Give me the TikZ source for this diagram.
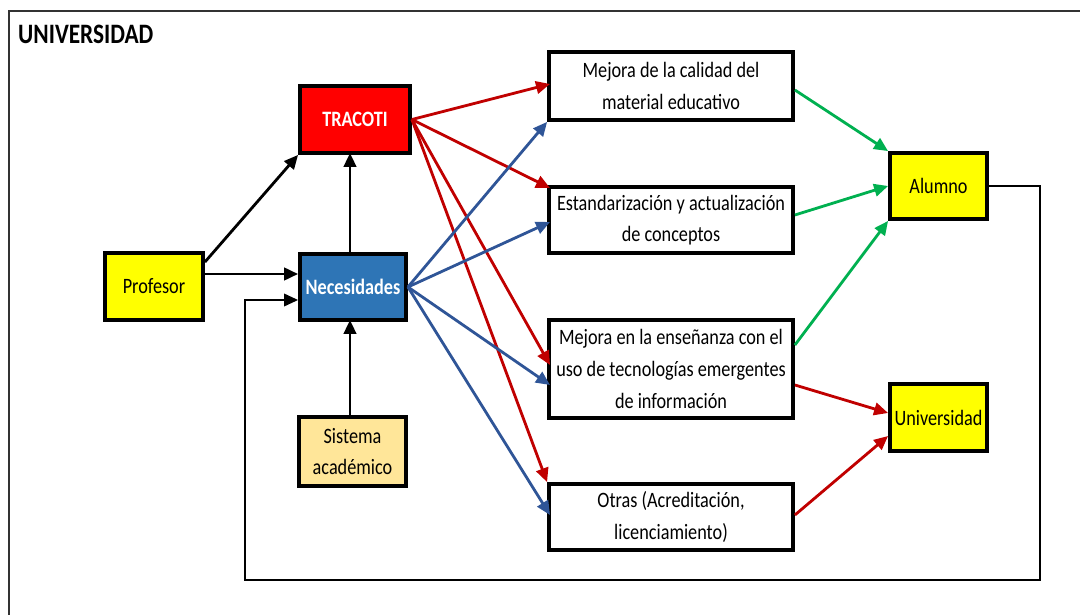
\documentclass[tikz,border=0pt]{standalone}
\usepackage{fontspec}
\setmainfont{Carlito}[FakeStretch=0.83]
\usepackage{tikz}
\usetikzlibrary{calc,arrows.meta}
\definecolor{rojo}{HTML}{FF0000}
\definecolor{rojoflecha}{HTML}{C00000}
\definecolor{azul}{HTML}{2E75B6}
\definecolor{azulflecha}{HTML}{2F5597}
\definecolor{verde}{HTML}{00B050}
\definecolor{amarillo}{HTML}{FFFF00}
\definecolor{crema}{HTML}{FFE699}
\tikzset{
	caja/.style={draw=black, line width=2.2pt, inner sep=0pt, align=center, font=\fontsize{12.5}{18}\selectfont},
	flecha/.style={line width=1.6pt, -{Triangle[length=2.8mm,width=2.5mm]}},
}

\begin{document}
\begin{tikzpicture}[x=0.02cm, y=-0.02cm]
			%%%%% START %%%%%
			
			\useasboundingbox (0, 0) rectangle (1080, 615);
			\draw[line width=1.2pt, color=black!80] (9, 615) -- (9, 11) -- (1080, 11);
			\node[anchor=west, font=\fontsize{16}{18}\selectfont\bfseries] (titulo) at (12, 34) {UNIVERSIDAD};
			
			\node[caja, fill=rojo, text=white, font=\fontsize{12.5}{18}\selectfont\bfseries, minimum width=2.2cm, minimum height=1.34cm] (tracoti) at (355, 119.5) {TRACOTI};
			\node[caja, fill=azul, text=white, font=\fontsize{12.5}{18}\selectfont\bfseries, minimum width=2.12cm, minimum height=1.32cm] (neces) at (353, 287) {Necesidades};
			\node[caja, fill=amarillo, minimum width=1.96cm, minimum height=1.34cm] (profesor) at (154, 286.5) {Profesor};
			\node[caja, fill=crema, minimum width=2.14cm, minimum height=1.38cm] (sistema) at (352.5, 451.5) {Sistema\\acad\'emico};
			
			\node[caja, minimum width=4.88cm, minimum height=1.36cm] (calidad) at (671, 86) {Mejora de la calidad del\\material educativo};
			\node[caja, minimum width=4.88cm, minimum height=1.32cm] (estandar) at (671, 220) {Estandarizaci\'on y actualizaci\'on\\de conceptos};
			\node[caja, minimum width=4.88cm, minimum height=1.96cm] (ensenanza) at (671, 369) {Mejora en la ense\~nanza con el\\uso de tecnolog\'ias emergentes\\de informaci\'on};
			\node[caja, minimum width=4.88cm, minimum height=1.32cm] (otras) at (671, 517) {Otras (Acreditaci\'on,\\licenciamiento)};
			
			\node[caja, fill=amarillo, minimum width=1.94cm, minimum height=1.32cm] (alumno) at (938.5, 186) {Alumno};
			\node[caja, fill=amarillo, minimum width=1.94cm, minimum height=1.34cm] (univ) at (938.5, 417.5) {Universidad};
			
			% negras
			\draw[flecha] (profesor.east |- 0, 262) -- (tracoti.south west);
			\draw[flecha] (profesor.east |- 0, 274) -- (neces.west |- 0, 274);
			\draw[flecha] (350, 254) -- (350, 153);
			\draw[flecha] (350, 417) -- (350, 320);
			\draw[line width=1.1pt, -{Triangle[length=2.8mm,width=2.5mm]}] (alumno.east) -- (1040, 186) -- (1040, 580) -| (245, 300) -- (neces.west |- 0, 300);
			
			% rojas
			\foreach \y in {84, 188, 365}
				\draw[flecha, color=rojoflecha] (tracoti.east) -- (550, \y);
			\draw[flecha, color=rojoflecha] (tracoti.east) -- (otras.north west);
			
			% azules
			\draw[flecha, color=azulflecha] (neces.east) -- (calidad.south west);
			\foreach \y in {222, 385, 515}
				\draw[flecha, color=azulflecha] (neces.east) -- (550, \y);
			
			% verdes
			\draw[flecha, color=verde] (calidad.east |- 0, 90) -- (alumno.north west);
			\draw[flecha, color=verde] (estandar.east |- 0, 215) -- (alumno.west);
			\draw[flecha, color=verde] (ensenanza.east |- 0, 345) -- (alumno.south west);
			
			\draw[flecha, color=rojoflecha] (ensenanza.east |- 0, 385) -- (univ.west |- 0, 413);
			\draw[flecha, color=rojoflecha] (otras.east |- 0, 515) -- (univ.west |- 0, 436);
			
			%%%%% END %%%%%
\end{tikzpicture}
\end{document}
